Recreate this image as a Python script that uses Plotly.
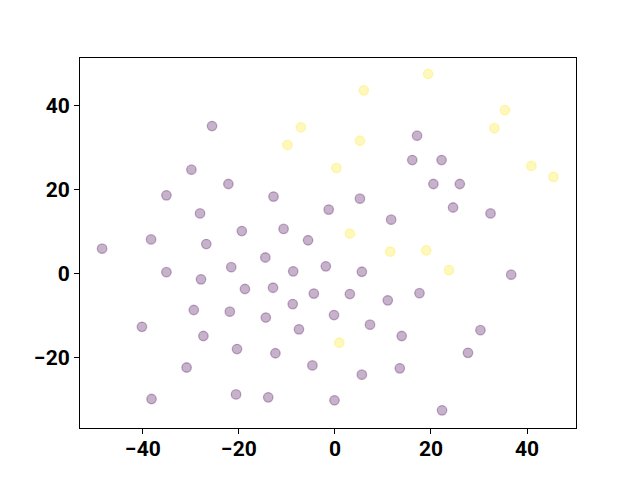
import plotly.graph_objects as go

# class 0 (purple) points
x0 = [-25.6, -29.9, -22.2, -35.1, -12.8, -28.1, -1.3, -38.3, -19.4, -10.7, -5.6, -26.8, -48.5,
      17.1, 16.1, 22.2, 20.5, 26.0, 5.2, 24.6, 32.4, 11.7,
      -14.5, -35.1, -21.6, -8.7, -1.9, -27.9, -18.75, -12.9, -4.4, -8.8, -29.4, -21.9, -14.4,
      -40.2, -7.5, -27.4, -20.4, -12.4, -4.7, -30.9, -20.6, -13.9, -38.2, -0.2, -0.1,
      5.6, 36.7, 3.1, 11.0, 17.6, 7.3, 13.9, 30.3, 27.7, 5.6, 13.5, 22.3]
y0 = [35.2, 24.8, 21.4, 18.7, 18.4, 14.4, 15.3, 8.2, 10.2, 10.7, 8.0, 7.1, 6.0,
      32.9, 27.1, 27.1, 21.4, 21.4, 17.9, 15.8, 14.4, 12.9,
      3.9, 0.4, 1.6, 0.6, 1.8, -1.3, -3.6, -3.3, -4.7, -7.2, -8.6, -9.0, -10.4,
      -12.6, -13.2, -14.8, -17.9, -18.9, -21.8, -22.3, -28.7, -29.4, -29.8, -9.8, -30.1,
      0.5, -0.2, -4.8, -6.3, -4.6, -12.1, -14.8, -13.4, -18.8, -24.0, -22.5, -32.5]

# class 1 (yellow) points
x1 = [-7.1, -9.9, 19.4, 6.0, 35.4, 33.2, 5.2, 40.9, 45.5, 0.3, 3.1, 11.5, 19.0, 23.75, 0.9]
y1 = [34.9, 30.7, 47.6, 43.7, 39.0, 34.7, 31.7, 25.7, 23.1, 25.2, 9.6, 5.3, 5.6, 0.9, -16.4]

purple = "rgba(68,1,84,0.3)"
yellow = "rgba(253,231,37,0.3)"

fig = go.Figure()
fig.add_trace(go.Scatter(x=x0, y=y0, mode="markers",
                         marker=dict(size=9.5, color=purple, line=dict(color=purple, width=1.3))))
fig.add_trace(go.Scatter(x=x1, y=y1, mode="markers",
                         marker=dict(size=9.5, color=yellow, line=dict(color=yellow, width=1.3))))

axis_common = dict(showgrid=False, zeroline=False, showline=True, linecolor="black", linewidth=1,
                   mirror=True, ticks="outside", ticklen=5, tickwidth=1, tickcolor="black",
                   automargin=False,
                   tickfont=dict(family="Roboto", size=21, color="black", weight="bold"))

fig.update_layout(
    width=640, height=480, showlegend=False,
    paper_bgcolor="white", plot_bgcolor="white",
    margin=dict(l=72, r=72, t=50, b=60, pad=0),
    xaxis=dict(range=[-53.1, 50.2], tickvals=[-40, -20, 0, 20, 40], ticklabelstandoff=-3,
               **axis_common),
    yaxis=dict(range=[-36.7, 51.4], tickvals=[-20, 0, 20, 40], **axis_common),
)
fig.write_html("out.html")
